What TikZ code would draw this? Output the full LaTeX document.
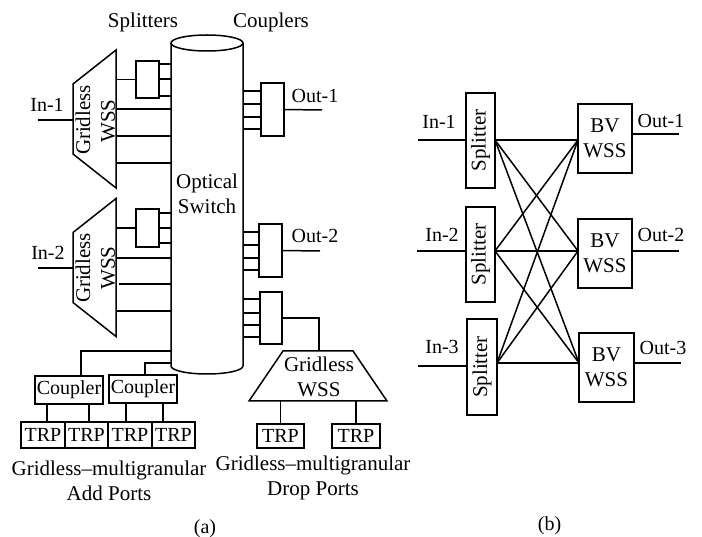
\documentclass[tikz,border=0pt]{standalone}
\usepackage{fontspec}
\setmainfont{Liberation Serif}
\usetikzlibrary{shapes,positioning,calc}

\begin{document}
\begin{tikzpicture}[
    x=1pt, y=-1pt,
    every node/.style={font=\fontsize{21}{25}\selectfont, inner sep=0pt, outer sep=0pt, align=center},
    box/.style={rectangle, draw, line width=1.5pt},
    port/.style={font=\fontsize{20}{25}\selectfont},
    wss/.style={trapezium, draw, line width=1.5pt, trapezium left angle=#1, trapezium right angle=#1},
    link/.style={line width=1.5pt}
]
    \useasboundingbox (0,0) rectangle (702,537);

    % Optical switch
    \node[minimum width=72pt, minimum height=339pt] (sw) at (207,204.5) {};
    \draw[link] (207,43) ellipse [x radius=36pt, y radius=8pt];
    \draw[link] (sw.west |- 0,43) -- (sw.west |- 0,366) .. controls (171,370.4) and (187.1,374) .. (207,374) .. controls (226.9,374) and (243,370.4) .. (sw.east |- 0,366) -- (sw.east |- 0,43);
    \node (swtext) at (207,194) {Optical\\Switch};
    \node (splabel) at (143,22) {Splitters};
    \node (cplabel) at (271,22) {Couplers};

    % Input side, first WSS
    \node[wss=51.7, rotate=90] (wssa) at (94.5,119) {\phantom{\rule{70pt}{43pt}}};
    \node[rotate=90] (wssatexta) at (83,120) {Gridless};
    \node[rotate=90] (wssatextb) at (108,121) {WSS};
    \node[box, minimum width=23pt, minimum height=37pt] (spa) at (147.5,79.5) {};
    \node[port] (ina) at (47,105) {In-1};
    \coordinate (inaend) at (38,120);
    \draw[link] (inaend) -- (inaend -| wssa.top side);
    \draw[link] (wssa.bottom side |- spa.west) -- (spa.west);
    \draw[link] (spa.east |- 0,64) -- (sw.west |- 0,64);
    \draw[link] (spa.east |- 0,79) -- (sw.west |- 0,79);
    \draw[link] (spa.east |- 0,96) -- (sw.west |- 0,96);
    \draw[link] (wssa.bottom side |- 0,109) -- (sw.west |- 0,109);
    \draw[link] (wssa.bottom side |- 0,136) -- (sw.west |- 0,136);
    \draw[link] (wssa.bottom side |- 0,163) -- (sw.west |- 0,163);

    % Input side, second WSS
    \node[wss=51.7, rotate=90] (wssb) at (94.5,267.5) {\phantom{\rule{70pt}{43pt}}};
    \node[rotate=90] (wssbtexta) at (83,268) {Gridless};
    \node[rotate=90] (wssbtextb) at (108,268) {WSS};
    \node[box, minimum width=23pt, minimum height=38pt] (spb) at (147.5,228) {};
    \node[port] (inb) at (48,253) {In-2};
    \coordinate (inbend) at (38,268);
    \draw[link] (inbend) -- (inbend -| wssb.top side);
    \draw[link] (wssb.bottom side |- spb.west) -- (spb.west);
    \draw[link] (spb.east |- 0,213) -- (sw.west |- 0,213);
    \draw[link] (spb.east |- 0,228) -- (sw.west |- 0,228);
    \draw[link] (spb.east |- 0,243) -- (sw.west |- 0,243);
    \draw[link] (wssb.bottom side |- 0,258) -- (sw.west |- 0,258);
    \coordinate (gapb) at (119,284);
    \draw[link] (gapb) -- (sw.west |- gapb);
    \draw[link] (wssb.bottom side |- 0,311) -- (sw.west |- 0,311);

    % Output couplers
    \node[box, minimum width=23pt, minimum height=53pt] (cpa) at (272.5,109.5) {};
    \node[box, minimum width=23pt, minimum height=53pt] (cpb) at (270.5,250.5) {};
    \node[box, minimum width=22pt, minimum height=52pt] (cpc) at (271,318) {};
    \node[port] (outa) at (315,96) {Out-1};
    \node[port] (outb) at (315,236) {Out-2};
    \coordinate (outaend) at (322,110);
    \coordinate (outbend) at (320,251);
    \draw[link] (sw.east |- 0,91) -- (cpa.west |- 0,91);
    \draw[link] (sw.east |- 0,104) -- (cpa.west |- 0,104);
    \draw[link] (sw.east |- 0,117) -- (cpa.west |- 0,117);
    \draw[link] (sw.east |- 0,129) -- (cpa.west |- 0,129);
    \draw[link] (cpa.east) -- (outaend);
    \draw[link] (sw.east |- 0,232) -- (cpb.west |- 0,232);
    \draw[link] (sw.east |- 0,245) -- (cpb.west |- 0,245);
    \draw[link] (sw.east |- 0,258) -- (cpb.west |- 0,258);
    \draw[link] (sw.east |- 0,270) -- (cpb.west |- 0,270);
    \draw[link] (cpb.east) -- (outbend);
    \draw[link] (sw.east |- 0,299) -- (cpc.west |- 0,299);
    \draw[link] (sw.east |- 0,313) -- (cpc.west |- 0,313);
    \draw[link] (sw.east |- 0,325) -- (cpc.west |- 0,325);
    \draw[link] (sw.east |- 0,337) -- (cpc.west |- 0,337);

    % Drop ports
    \node[wss=55.8] (wssc) at (318,376) {\phantom{\rule{70pt}{50pt}}};
    \node (wssctext) at (319,376.5) {Gridless\\WSS};
    \node[box, port, minimum width=47pt, minimum height=24pt] (trpe) at (280.5,436) {TRP};
    \node[box, port, minimum width=48pt, minimum height=24pt] (trpf) at (356,436) {TRP};
    \draw[link] (cpc.east) -| (wssctext.north |- wssc.top side);
    \draw[link] (trpe.north |- wssc.bottom side) -- (trpe.north);
    \draw[link] (trpf.north |- wssc.bottom side) -- (trpf.north);
    \node (droplabel) at (313,477.5) {Gridless--multigranular\\Drop Ports};

    % Add ports
    \node[box, port, minimum width=68pt, minimum height=28pt] (cpd) at (69,390) {Coupler};
    \node[box, port, minimum width=68pt, minimum height=28pt] (cpe) at (143,389) {Coupler};
    \node[box, port, minimum width=44pt, minimum height=26pt] (trpa) at (43,435) {TRP};
    \node[box, port, minimum width=43pt, minimum height=26pt] (trpb) at (86.5,435) {TRP};
    \node[box, port, minimum width=44pt, minimum height=26pt] (trpc) at (130,435) {TRP};
    \node[box, port, minimum width=43pt, minimum height=26pt] (trpd) at (173.5,435) {TRP};
    \coordinate (adda) at (81,351);
    \coordinate (addb) at (145,363);
    \draw[link] (adda |- cpd.north) -- (adda) -- (sw.west |- adda);
    \draw[link] (addb |- cpe.north) -- (addb) -- (sw.west |- addb);
    \draw[link] (cpd.south -| 47,0) -- (trpa.north -| 47,0);
    \draw[link] (cpd.south -| 89,0) -- (trpb.north -| 89,0);
    \draw[link] (cpe.south -| 126,0) -- (trpc.north -| 126,0);
    \draw[link] (cpe.south -| 163,0) -- (trpd.north -| 163,0);
    \node (addlabel) at (109,480.5) {Gridless--multigranular\\Add Ports};

    % Panel b
    \node[box, minimum width=29pt, minimum height=95pt] (sa) at (480.5,140.5) {\rotatebox{90}{Splitter}};
    \node[box, minimum width=29pt, minimum height=95pt] (sb) at (480.5,254.5) {\rotatebox{90}{Splitter}};
    \node[box, minimum width=30pt, minimum height=96pt] (sc) at (482,367) {\rotatebox{90}{Splitter}};
    \node[box, minimum width=54pt, minimum height=69pt] (bva) at (605,138.5) {BV\\WSS};
    \node[box, minimum width=54pt, minimum height=69pt] (bvb) at (605,253.5) {BV\\WSS};
    \node[box, minimum width=55pt, minimum height=69pt] (bvc) at (606.5,367.5) {BV\\WSS};
    \node[port] (inc) at (439,122) {In-1};
    \node[port] (ind) at (442,235) {In-2};
    \node[port] (ine) at (442,347) {In-3};
    \node[port] (outc) at (661,121) {Out-1};
    \node[port] (outd) at (661,235) {Out-2};
    \node[port] (oute) at (663,348) {Out-3};

    \coordinate (pa) at (sa.east |- 0,140);
    \coordinate (pb) at (sb.east |- 0,251);
    \coordinate (pc) at (sc.east |- 0,363);
    \coordinate (qa) at (bva.west |- 0,140);
    \coordinate (qb) at (bvb.west |- 0,251);
    \coordinate (qc) at (bvc.west |- 0,363);
    \draw[link] (pa) -- (qa);
    \draw[link] (pa) -- (qb);
    \draw[link] (pa) -- (qc);
    \draw[link] (pb) -- (qa);
    \draw[link] (pb) -- (qb);
    \draw[link] (pb) -- (qc);
    \draw[link] (pc) -- (qa);
    \draw[link] (pc) -- (qb);
    \draw[link] (pc) -- (qc);

    \coordinate (ena) at (418,140);
    \coordinate (enb) at (417,251);
    \coordinate (enc) at (418,366);
    \coordinate (exa) at (679,134);
    \coordinate (exb) at (679,251);
    \coordinate (exc) at (681,363);
    \draw[link] (ena) -- (sa.west |- ena);
    \draw[link] (enb) -- (sb.west |- enb);
    \draw[link] (enc) -- (sc.west |- enc);
    \draw[link] (bva.east |- exa) -- (exa);
    \draw[link] (bvb.east |- exb) -- (exb);
    \draw[link] (bvc.east |- exc) -- (exc);

    % Captions
    \node[port] (capa) at (205,529) {(a)};
    \node[port] (capb) at (549.5,526) {(b)};
\end{tikzpicture}
\end{document}
